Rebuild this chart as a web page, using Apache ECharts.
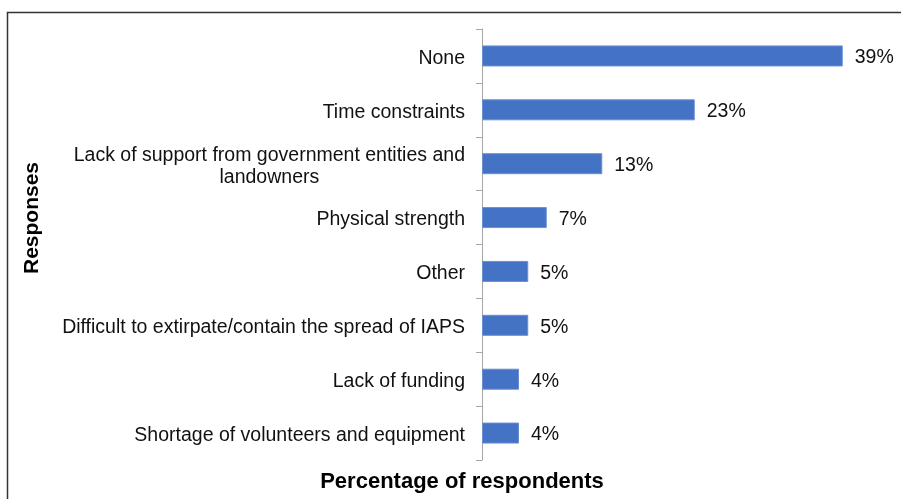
<!DOCTYPE html>
<html>
<head>
<meta charset="utf-8">
<style>
  html, body { margin: 0; padding: 0; background: #fff; }
  #chart { width: 903px; height: 499px; }
</style>
<script src="https://cdn.jsdelivr.net/npm/echarts@6/dist/echarts.min.js"></script>
</head>
<body>
<div id="chart"></div>
<script>
// Survey responses: obstacles to IAPS control work
const categories = [
  'None',
  'Time constraints',
  'Lack of support from government entities and\nlandowners',
  'Physical strength',
  'Other',
  'Difficult to extirpate/contain the spread of IAPS',
  'Lack of funding',
  'Shortage of volunteers and equipment'
];
const percentages = [39, 23, 13, 7, 5, 5, 4, 4];
const yTitle = 'Responses';
const xTitle = 'Percentage of respondents';

const FONT = '"Liberation Sans", Arial, sans-serif';
const chart = echarts.init(document.getElementById('chart'), null, { renderer: 'canvas' });

chart.setOption({
  backgroundColor: '#fff',
  animation: false,
  grid: { left: 482, right: 51, top: 29, bottom: 39, containLabel: false },
  xAxis: {
    type: 'value',
    min: 0,
    max: 40,
    show: false
  },
  yAxis: {
    type: 'category',
    inverse: true,
    data: categories,
    axisLine: { show: true, lineStyle: { color: '#a6a6a6', width: 1 } },
    axisTick: { show: true, length: 6, lineStyle: { color: '#a6a6a6' } },
    axisLabel: {
      margin: 17,
      color: '#111',
      fontFamily: FONT,
      fontSize: 19.5,
      lineHeight: 22,
      align: 'right',
      padding: [5, 0, 0, 0],
      // wrapped labels: lines centred on each other, block flush right
      formatter: v => v.split('\n').map(line => '{c|' + line + '}').join('\n'),
      rich: {
        c: {
          align: 'center',
          color: '#111',
          fontFamily: FONT,
          fontSize: 19.5,
          lineHeight: 22
        }
      }
    }
  },
  series: [{
    type: 'bar',
    data: percentages,
    barWidth: 21,
    itemStyle: { color: '#4472C4', borderColor: '#6a8fd3', borderWidth: 1 },
    label: {
      show: true,
      position: 'right',
      distance: 12,
      offset: [0, 2],
      color: '#111',
      fontFamily: FONT,
      fontSize: 19.5,
      formatter: p => p.value + '%'
    }
  }],
  graphic: [
    {
      type: 'polyline',
      shape: { points: [[7.5, 499], [7.5, 12.5], [901, 12.5]] },
      style: { stroke: '#333', lineWidth: 1.5, fill: null }
    },
    {
      type: 'text',
      x: 32,
      y: 218,
      rotation: Math.PI / 2,
      style: {
        text: yTitle,
        fill: '#000',
        font: 'bold 21px ' + FONT,
        textAlign: 'center',
        textVerticalAlign: 'middle'
      }
    },
    {
      type: 'text',
      x: 462,
      y: 482,
      style: {
        text: xTitle,
        fill: '#000',
        font: 'bold 22px ' + FONT,
        textAlign: 'center',
        textVerticalAlign: 'middle'
      }
    }
  ]
});
</script>
</body>
</html>
